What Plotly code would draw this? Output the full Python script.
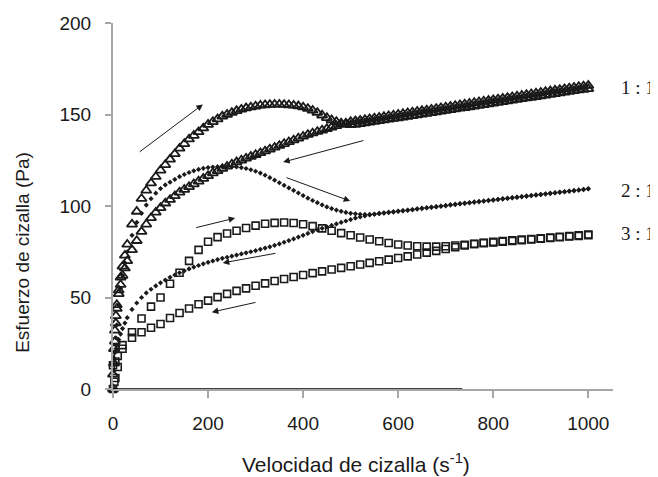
import plotly.graph_objects as go

# ---------------- data ----------------
# shear-rate grid shared by the 1:1 and 2:1 sweeps (s^-1)
SHEAR_FINE = [0, 2, 4, 6, 8, 12, 16, 20, 25] + list(range(30, 1001, 10))
# shear-rate grid of the 3:1 sweep (s^-1)
SHEAR_COARSE = [0, 5, 10] + list(range(20, 1001, 20))

# 1:1  (open triangles)
STRESS_11_UP = [0, 14, 26, 36, 44, 54, 61, 67, 73,
                79, 90, 97, 104, 108.5, 112.5, 116, 119.5, 122.5, 125.5, 128.5,
                131.5, 134, 136.5, 138.5, 140.5, 142.5, 144.5, 146, 147.5, 149,
                150, 151, 152, 152.8, 153.5, 154, 154.5, 155, 155.2, 155.4,
                155.5, 155.5, 155.4, 155.2, 155, 154.6, 154, 153.2, 152.2, 151,
                149.6, 148.2, 147, 146, 145.2, 144.6, 144.3, 144.5, 144.9, 145.3,
                145.7, 146.1, 146.5, 146.9, 147.3, 147.7, 148.1, 148.5, 148.9, 149.3,
                149.7, 150.1, 150.5, 150.9, 151.3, 151.7, 152.1, 152.5, 152.9, 153.3,
                153.7, 154.1, 154.5, 154.9, 155.3, 155.7, 156.1, 156.5, 156.9, 157.3,
                157.7, 158.1, 158.5, 158.9, 159.3, 159.7, 160.1, 160.5, 160.9, 161.3,
                161.7, 162.1, 162.5, 162.9, 163.3, 163.6, 164.0]
STRESS_11_DOWN = [8, 22, 32, 40, 46, 52, 57, 62, 66,
                  70, 76, 81, 86, 90, 93.5, 96.5, 99, 101.5, 103.5, 105.5,
                  107.5, 109, 110.5, 112, 113.5, 115, 116.5, 118, 119.2, 120.4,
                  121.6, 122.8, 124, 125, 126, 127, 128, 129, 130, 131,
                  132, 133, 134, 135, 136, 137, 138, 139, 139.8, 140.6,
                  141.4, 142.2, 143, 143.8, 144.6, 145.3, 146, 146.4, 146.8, 147.2,
                  147.6, 148, 148.4, 148.8, 149.2, 149.6, 150, 150.4, 150.8, 151.2,
                  151.6, 152, 152.4, 152.8, 153.2, 153.6, 154, 154.4, 154.8, 155.2,
                  155.6, 156, 156.4, 156.8, 157.2, 157.6, 158, 158.4, 158.8, 159.2,
                  159.6, 160, 160.4, 160.8, 161.2, 161.6, 162, 162.4, 162.8, 163.2,
                  163.6, 164, 164.4, 164.8, 165.2, 165.5, 165.8]

# 2:1  (small filled diamonds)
STRESS_21_UP = [0, 10, 20, 28, 35, 46, 55, 62, 69,
                75, 84, 91, 96, 100.5, 104, 107, 109.5, 111.5, 113, 114.5,
                116, 117.2, 118.3, 119.2, 120, 120.6, 121, 121.3, 121.5, 121.6,
                121.6, 121.5, 121.3, 121, 120.5, 119.8, 119, 118, 116.8, 115.5,
                114.1, 112.7, 111.3, 109.9, 108.5, 107.1, 105.7, 104.3, 103, 101.8,
                100.6, 99.5, 98.6, 97.8, 97.1, 96.5, 96, 95.7, 95.5, 95.4,
                95.4, 95.5, 95.8, 96.1, 96.4, 96.7, 97, 97.3, 97.6, 97.9,
                98.3, 98.6, 98.9, 99.2, 99.5, 99.8, 100.1, 100.5, 100.8, 101.1,
                101.4, 101.7, 102, 102.3, 102.6, 102.9, 103.2, 103.5, 103.8, 104.1,
                104.4, 104.7, 105, 105.3, 105.6, 105.9, 106.2, 106.5, 106.8, 107.1,
                107.4, 107.7, 108, 108.3, 108.6, 108.9, 109.3]
STRESS_21_DOWN = [14, 17, 20, 22, 24, 27, 30, 33, 36,
                  39, 43.5, 47, 50, 52.5, 54.5, 56.3, 58, 59.5, 61, 62.3,
                  63.5, 64.6, 65.6, 66.6, 67.5, 68.4, 69.2, 70, 70.7, 71.4,
                  72, 72.6, 73.2, 73.8, 74.4, 75, 75.6, 76.3, 77, 77.7,
                  78.5, 79.3, 80.2, 81.1, 82, 83, 84, 85, 86, 86.9,
                  87.8, 88.6, 89.4, 90.2, 91, 91.8, 92.6, 93.4, 94, 94.6,
                  95.1, 95.6, 96, 96.3, 96.6, 96.9, 97.2, 97.5, 97.8, 98.1,
                  98.5, 98.8, 99.1, 99.4, 99.7, 100, 100.3, 100.7, 101, 101.3,
                  101.6, 101.9, 102.2, 102.5, 102.8, 103.1, 103.4, 103.7, 104, 104.3,
                  104.6, 104.9, 105.2, 105.5, 105.8, 106.1, 106.4, 106.7, 107, 107.3,
                  107.6, 107.9, 108.2, 108.5, 108.8, 109.1, 109.5]

# 3:1  (open squares)
STRESS_31_UP = [0, 6, 12, 22, 31, 38.5, 45, 50, 57.5, 63.5,
                70, 76, 80.5, 83, 85, 86.5, 88, 89.3, 90.3, 90.8,
                91, 90.7, 90, 89, 87.8, 86.5, 85.2, 84, 82.8, 81.7,
                80.7, 79.8, 79, 78.4, 78, 77.8, 77.8, 78, 78.4, 78.8,
                79.2, 79.7, 80.1, 80.5, 80.9, 81.3, 81.7, 82.1, 82.5, 82.9,
                83.3, 83.7, 84.1, 84.5, 85]
STRESS_31_DOWN = [13, 15, 18, 24, 28, 31, 33.5, 35.5, 38.8, 41.5,
                  44, 46.3, 48.3, 50.2, 52, 53.6, 55, 56.4, 57.7, 59,
                  60.1, 61.2, 62.3, 63.3, 64.3, 65.3, 66.2, 67.1, 68, 68.9,
                  69.8, 70.7, 71.6, 72.5, 73.5, 74.5, 75.5, 76.5, 77.5, 78.5,
                  79.3, 79.9, 80.4, 80.8, 81.2, 81.6, 82, 82.4, 82.8, 83.2,
                  83.6, 84, 84.4, 84.8, 85.3]
# stray 3:1 readings near the origin
SHEAR_31_EXTRA = [-27, 3, 0]
STRESS_31_EXTRA = [9, 4, -1]

X_TICKS = [0, 200, 400, 600, 800, 1000]
Y_TICKS = [0, 50, 100, 150, 200]
SERIES_LABELS = ["1 : 1", "2 : 1", "3 : 1"]
LABEL_Y = [165, 108.7, 85.2]

# hysteresis arrows: (head x, head y, tail x, tail y)
ARROWS = [
    (189, 155.5, 53, 129),
    (358, 124, 530, 136),
    (499, 102.7, 362, 115.8),
    (257, 93.4, 172, 88),
    (231, 68.9, 345, 74.3),
    (208, 42, 303, 47.5),
]

# ---------------- figure ----------------
INK = "#1a1a1a"
AXIS_GREY = "#a6a6a6"

fig = go.Figure()

tri = dict(symbol="triangle-up-open", size=9, color=INK, line=dict(width=1.8, color=INK))
dia = dict(symbol="diamond", size=4, color=INK, line=dict(width=0))
sq = dict(symbol="square-open", size=7, color=INK, line=dict(width=1.6, color=INK))

fig.add_trace(go.Scatter(x=SHEAR_COARSE, y=STRESS_31_UP, mode="markers", marker=sq, cliponaxis=False))
fig.add_trace(go.Scatter(x=SHEAR_COARSE, y=STRESS_31_DOWN, mode="markers", marker=sq, cliponaxis=False))
fig.add_trace(go.Scatter(x=SHEAR_31_EXTRA, y=STRESS_31_EXTRA, mode="markers", marker=sq, cliponaxis=False))
fig.add_trace(go.Scatter(x=SHEAR_FINE, y=STRESS_21_UP, mode="markers", marker=dia, cliponaxis=False))
fig.add_trace(go.Scatter(x=SHEAR_FINE, y=STRESS_21_DOWN, mode="markers", marker=dia, cliponaxis=False))
fig.add_trace(go.Scatter(x=SHEAR_FINE, y=STRESS_11_UP, mode="markers", marker=tri, cliponaxis=False))
fig.add_trace(go.Scatter(x=SHEAR_FINE, y=STRESS_11_DOWN, mode="markers", marker=tri, cliponaxis=False))

annotations = []
for hx, hy, tx, ty in ARROWS:
    annotations.append(dict(x=hx, y=hy, ax=tx, ay=ty, xref="x", yref="y", axref="x", ayref="y",
                            text="", showarrow=True, arrowhead=2, arrowsize=1.3, arrowwidth=1,
                            arrowcolor=INK))
for lab, ly in zip(SERIES_LABELS, LABEL_Y):
    annotations.append(dict(x=1.05, y=ly, xref="paper", yref="y", text=lab, showarrow=False,
                            xanchor="center", yanchor="middle",
                            font=dict(family="Liberation Serif", size=19, color=INK)))
annotations.append(dict(x=-0.18, y=0.372, xref="paper", yref="paper", text="Esfuerzo de cizalla (Pa)",
                        textangle=-90, showarrow=False, xanchor="center", yanchor="middle",
                        font=dict(family="Liberation Sans", size=19, color=INK)))
annotations.append(dict(x=0.486, y=-0.202, xref="paper", yref="paper",
                        text="Velocidad de cizalla (s<sup>-1</sup>)",
                        showarrow=False, xanchor="center", yanchor="middle",
                        font=dict(family="Liberation Sans", size=21, color=INK)))

# the page body adds an 8 px offset, so the figure is sized/margined to compensate
fig.update_layout(
    width=650, height=469,
    margin=dict(l=105, r=45, t=15, b=88, autoexpand=False),
    paper_bgcolor="white", plot_bgcolor="white",
    showlegend=False,
    font=dict(family="Liberation Sans", size=19, color=INK),
    annotations=annotations,
    shapes=[dict(type="line", xref="x", yref="y", x0=0, x1=735, y0=0, y1=0,
                 line=dict(color="black", width=1.5), layer="above")],
)
fig.update_xaxes(range=[0, 1052], tickvals=X_TICKS, showgrid=False, zeroline=False,
                 automargin=False,
                 showline=True, linecolor=AXIS_GREY, linewidth=1.5,
                 ticks="outside", ticklen=7, tickwidth=1.5, tickcolor=AXIS_GREY,
                 ticklabelstandoff=9, tickfont=dict(size=19, color=INK))
fig.update_yaxes(range=[0, 200], tickvals=Y_TICKS, showgrid=False, zeroline=False,
                 automargin=False,
                 showline=True, linecolor=AXIS_GREY, linewidth=2,
                 ticks="outside", ticklen=6, tickwidth=1.5, tickcolor=AXIS_GREY,
                 ticklabelstandoff=10, tickfont=dict(size=19, color=INK))

fig.write_html("out.html")
